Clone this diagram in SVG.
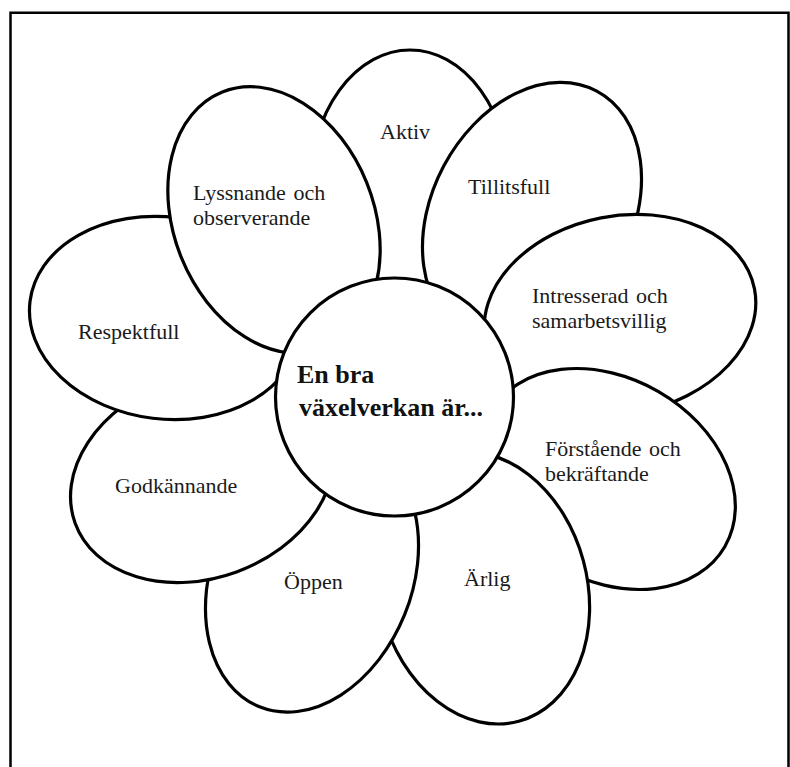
<svg xmlns="http://www.w3.org/2000/svg" width="790" height="767" viewBox="0 0 790 767">
<style>
.petal{fill:#fff;stroke:#000;stroke-width:3.2}
.lbl{font-family:"Liberation Serif","Times New Roman",serif;font-size:22px;fill:#1a1a1a;word-spacing:2px}
.ctr{font-family:"Liberation Serif","Times New Roman",serif;font-size:26px;font-weight:bold;fill:#111}
</style>
<rect x="0" y="0" width="790" height="767" fill="#fff"/>
<path d="M10.5 780 V12.8 H788.5 V780" fill="none" stroke="#000" stroke-width="2.5"/>
<g id="connectors"/>
<g id="aktiv"><ellipse class="petal" cx="410" cy="188" rx="100" ry="138"/><text class="lbl" x="380" y="139">Aktiv</text></g>
<g id="tillitsfull"><ellipse class="petal" cx="532" cy="213" rx="100" ry="138" transform="rotate(28 532 213)"/><text class="lbl" x="468" y="194">Tillitsfull</text></g>
<g id="intresserad"><ellipse class="petal" cx="620" cy="315" rx="137" ry="99" transform="rotate(-11 620 315)"/><text class="lbl" x="532" y="303">Intresserad och</text><text class="lbl" x="532" y="328">samarbetsvillig</text></g>
<g id="forstaende"><ellipse class="petal" cx="608" cy="479" rx="135" ry="101" transform="rotate(30 608 479)"/><text class="lbl" x="545" y="456">Förstående och</text><text class="lbl" x="545" y="481">bekräftande</text></g>
<g id="arlig"><ellipse class="petal" cx="483" cy="588" rx="104" ry="138" transform="rotate(-15 483 588)"/><text class="lbl" x="464" y="586">Ärlig</text></g>
<g id="oppen"><ellipse class="petal" cx="312" cy="577" rx="100" ry="140" transform="rotate(22 312 577)"/><text class="lbl" x="284" y="589">Öppen</text></g>
<g id="godkannande"><ellipse class="petal" cx="202" cy="477" rx="135" ry="101" transform="rotate(-20 202 477)"/><text class="lbl" x="115" y="493">Godkännande</text></g>
<g id="respektfull"><ellipse class="petal" cx="165" cy="318" rx="136" ry="101" transform="rotate(7 165 318)"/><text class="lbl" x="78" y="339">Respektfull</text></g>
<g id="lyssnande"><ellipse class="petal" cx="274" cy="220" rx="100" ry="138" transform="rotate(-22 274 220)"/><text class="lbl" x="193" y="200">Lyssnande och</text><text class="lbl" x="193" y="225">observerande</text></g>
<g id="center"><circle class="petal" cx="394.5" cy="397" r="119"/><text class="ctr" x="297" y="383">En bra</text><text class="ctr" x="299" y="416">växelverkan är...</text></g>
</svg>
